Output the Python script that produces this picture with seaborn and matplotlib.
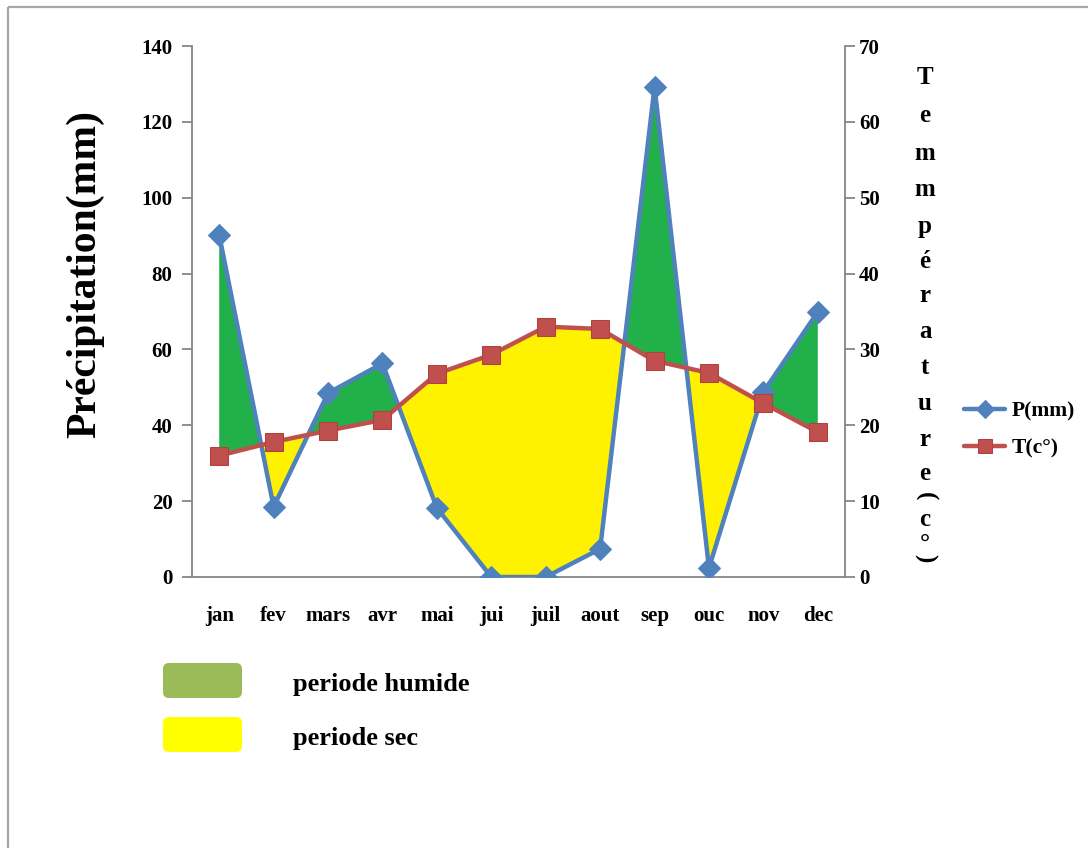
import numpy as np
import pandas as pd
import matplotlib
matplotlib.use("Agg")
import matplotlib.pyplot as plt
from matplotlib.patches import FancyBboxPatch
import seaborn as sns

# Monthly climate data (ombrothermic diagram, P = 2T)
months = ["jan", "fev", "mars", "avr", "mai", "jui", "juil", "aout", "sep", "ouc", "nov", "dec"]
precip_mm = [90.2, 18.5, 48.5, 56.3, 18.2, 0.0, 0.0, 7.4, 129.2, 2.4, 48.8, 69.9]
temp_c = [16.0, 17.8, 19.3, 20.7, 26.8, 29.3, 33.0, 32.7, 28.5, 26.9, 22.9, 19.1]
p_ticks = [0, 20, 40, 60, 80, 100, 120, 140]
t_ticks = [0, 10, 20, 30, 40, 50, 60, 70]

sns.set_style("white")
plt.rcParams["font.family"] = ["Liberation Serif", "DejaVu Serif"]
plt.rcParams["font.weight"] = "bold"
for key in ("text.color", "axes.labelcolor", "xtick.color", "ytick.color"):
    plt.rcParams[key] = "black"

df = pd.DataFrame({"mois": months, "idx": np.arange(len(months)),
                   "P": precip_mm, "T": temp_c})

W, H = 1088, 848
fig = plt.figure(figsize=(W / 100, H / 100), dpi=100)
fig.patch.set_facecolor("white")

ax = fig.add_axes([192 / W, 1 - 577 / H, 653 / W, 531 / H])
ax2 = ax.twinx()

BLUE = "#4F81BD"
RED = "#C0504D"
GREEN = "#22B04A"
YELLOW = "#FFF200"
GREY = "#868686"

# humid / dry periods: P compared to 2T
x = df["idx"].to_numpy(dtype=float)
p = df["P"].to_numpy()
t2 = 2 * df["T"].to_numpy()
ax.fill_between(x, p, t2, where=p >= t2, interpolate=True, color=GREEN, lw=0, zorder=1)
ax.fill_between(x, p, t2, where=p <= t2, interpolate=True, color=YELLOW, lw=0, zorder=1)

sns.lineplot(data=df, x="idx", y="P", ax=ax, color=BLUE, lw=3.2, marker="D",
             markersize=11, markeredgecolor=BLUE, label="P(mm)", legend=False, zorder=3)
sns.lineplot(data=df, x="idx", y="T", ax=ax2, color=RED, lw=3.2, marker="s",
             markersize=12.5, markeredgecolor="#B2413D", label="T(c°)", legend=False, zorder=3)

ax.set_xlim(-0.5, len(months) - 0.5)
ax.set_ylim(0, 140)
ax2.set_ylim(0, 70)
for a in (ax, ax2):
    a.set_xlabel("")
    a.set_ylabel("")
    a.grid(False)

# category boundaries carry the tick marks, centres carry the labels
ax.set_xticks(np.arange(-0.5, len(months), 1))
ax.set_xticklabels([])
ax.set_xticks(np.arange(len(months)), minor=True)
ax.set_xticklabels(months, minor=True)
ax.tick_params(axis="x", which="major", length=7, width=1.3, color=GREY, direction="out")
ax.tick_params(axis="x", which="minor", length=0, pad=21, labelsize=15)

ax.set_yticks(p_ticks)
ax.tick_params(axis="y", length=7, width=1.3, color=GREY, direction="out", pad=7, labelsize=15)
ax2.set_yticks(t_ticks)
ax2.tick_params(axis="y", length=7, width=1.3, color=GREY, direction="out", pad=3, labelsize=15)

for s in ("top", "right"):
    ax.spines[s].set_visible(False)
for s in ("top", "left", "bottom"):
    ax2.spines[s].set_visible(False)
for sp in (ax.spines["left"], ax.spines["bottom"], ax2.spines["right"]):
    sp.set_color(GREY)
    sp.set_linewidth(1.3)

fig.text(85 / W, 1 - 274 / H, "Précipitation(mm)", rotation=90, ha="center",
         va="center", fontsize=30, fontweight="bold")

handles = [ax.get_lines()[-1], ax2.get_lines()[-1]]
fig.legend(handles, ["P(mm)", "T(c°)"], loc="center left",
           bbox_to_anchor=(945 / W, 1 - 430 / H), frameon=False, numpoints=1,
           prop={"size": 15.5, "weight": "bold"}, handlelength=1.9,
           handletextpad=0.3, labelspacing=0.75, markerscale=0.8)

# overlay in pixel units for the frame, the period legend and the stacked title
ov = fig.add_axes([0, 0, 1, 1], zorder=-1)
ov.set_xlim(0, W)
ov.set_ylim(H, 0)
ov.axis("off")
ov.patch.set_visible(False)

ov.plot([8, W], [7, 7], color="#A6A6A6", lw=1.6, solid_capstyle="butt")
ov.plot([8, 8], [7, H], color="#A6A6A6", lw=1.6, solid_capstyle="butt")

for y0, col, txt in [(663, "#9BBB59", "periode humide"), (717, "#FFFF00", "periode sec")]:
    ov.add_patch(FancyBboxPatch((163, y0), 79, 35,
                                boxstyle="round,pad=0,rounding_size=6",
                                facecolor=col, edgecolor="none"))
    ov.text(293, y0 + 22, txt, ha="left", va="center", fontsize=19, fontweight="bold")

letters = list("Temmpérature")
ys = [78, 116, 153, 189, 226, 261, 296, 332, 367, 404, 440, 474]
for ch, yy in zip(letters, ys):
    ov.text(925, yy, ch, ha="center", va="center", fontsize=18, fontweight="bold")
ov.text(925, 496, "(", ha="center", va="center", fontsize=18, fontweight="bold", rotation=-90)
ov.text(925, 520, "c", ha="center", va="center", fontsize=18, fontweight="bold")
ov.text(925, 543, "°", ha="center", va="center", fontsize=18, fontweight="bold")
ov.text(925, 558, ")", ha="center", va="center", fontsize=18, fontweight="bold", rotation=-90)

fig.savefig("out.png", dpi=100, facecolor="white")
